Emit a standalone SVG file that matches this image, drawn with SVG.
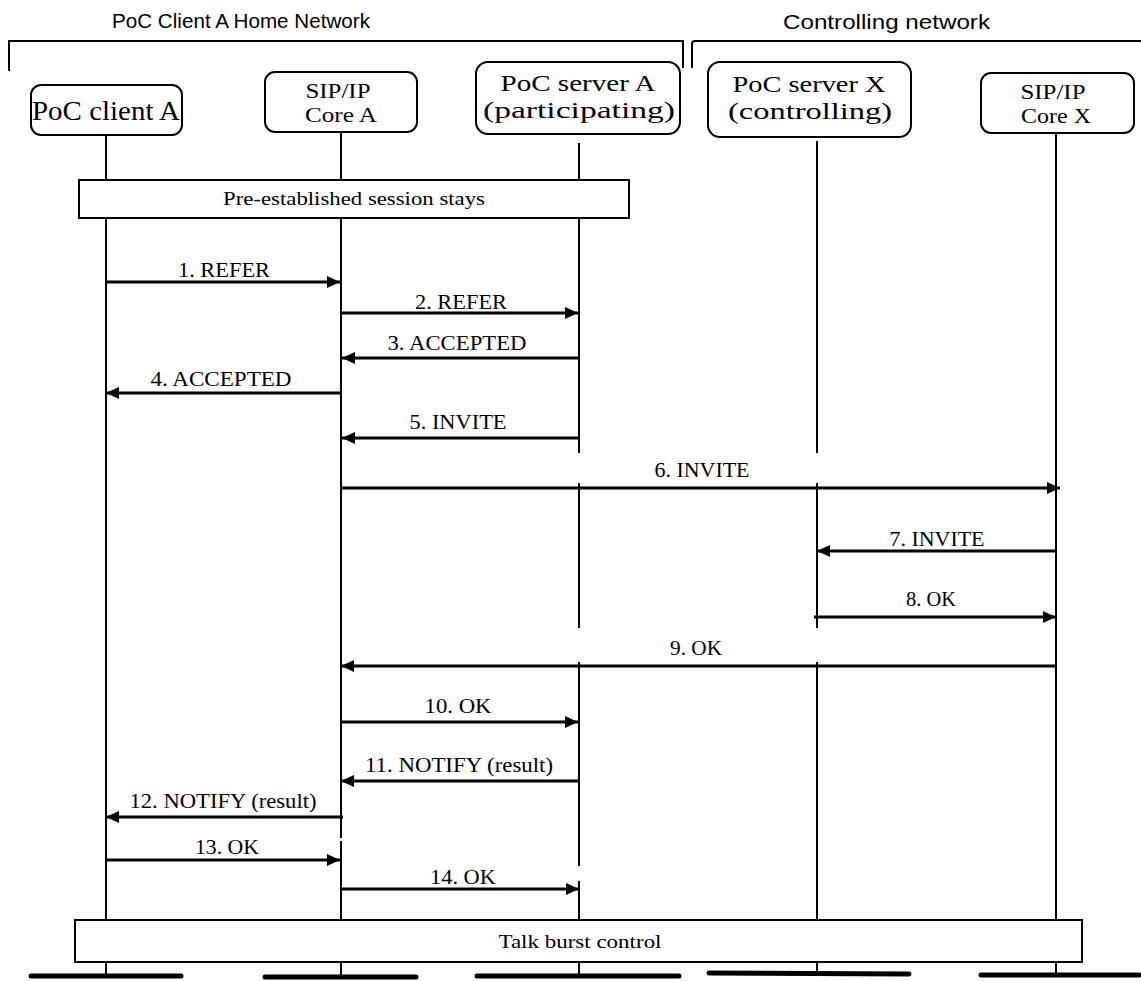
<svg xmlns="http://www.w3.org/2000/svg" width="1141" height="981" viewBox="0 0 1141 981">
<style>
.bg{fill:#fff}
.box{fill:#fff;stroke:#000;stroke-width:2}
.life{stroke:#000;stroke-width:2;fill:none}
.msg{stroke:#000;stroke-width:3;fill:none;marker-end:url(#ah)}
.net{stroke:#000;stroke-width:2;fill:none}
.bar{stroke:#000;stroke-width:5;stroke-linecap:round}
.ttl{font-family:"Liberation Sans",Arial,sans-serif;font-size:20px;fill:#000}
.big{font-family:"Liberation Serif","Times New Roman",serif;font-size:28px;fill:#000;text-anchor:middle}
.mid{font-family:"Liberation Serif","Times New Roman",serif;font-size:24px;fill:#000;text-anchor:middle}
.sm{font-family:"Liberation Serif","Times New Roman",serif;font-size:21px;fill:#000;text-anchor:middle}
.lbl{font-family:"Liberation Serif","Times New Roman",serif;font-size:21px;fill:#000;text-anchor:middle}
.bx{font-family:"Liberation Serif","Times New Roman",serif;font-size:19px;fill:#000;text-anchor:middle}
</style>
<defs>
<marker id="ah" markerUnits="userSpaceOnUse" markerWidth="14" markerHeight="13" refX="13" refY="6" orient="auto">
<path d="M0,0 L13,6 L0,12 Z" fill="#000"/>
</marker>
</defs>
<rect class="bg" x="0" y="0" width="1141" height="981"/>

<g id="networks">
<text class="ttl" x="112" y="28" textLength="258" lengthAdjust="spacingAndGlyphs">PoC Client A Home Network</text>
<text class="ttl" x="783" y="29" textLength="207" lengthAdjust="spacingAndGlyphs">Controlling network</text>
<path class="net" d="M8,41 H684 M9,41 V71 M683,41 V68 M692,68 V44 Q692,41 695,41 H1141"/>
</g>

<g id="lifelines">
<path class="life" d="M106,135 V975"/>
<path class="life" d="M341,132 V838 M341,841 V975"/>
<path class="life" d="M579,143 V453 M579,483 V628 M579,662 V866 M579,881 V975"/>
<path class="life" d="M817,141 V453 M817,483 V628 M817,662 V975"/>
<path class="life" d="M1056,133 V975"/>
</g>

<g id="node-client-a">
<rect class="box" x="31" y="85" width="151" height="50" rx="10"/>
<text class="big" x="106" y="120" textLength="148" lengthAdjust="spacingAndGlyphs">PoC client A</text>
</g>
<g id="node-core-a">
<rect class="box" x="265" y="72" width="152" height="60" rx="10"/>
<text class="sm" x="338" y="98" textLength="65" lengthAdjust="spacingAndGlyphs">SIP/IP</text>
<text class="sm" x="341" y="122" textLength="72" lengthAdjust="spacingAndGlyphs">Core A</text>
</g>
<g id="node-server-a">
<rect class="box" x="476" y="62" width="204" height="72" rx="12"/>
<text class="mid" x="578" y="91" textLength="155" lengthAdjust="spacingAndGlyphs">PoC server A</text>
<text class="mid" x="579" y="118" textLength="192" lengthAdjust="spacingAndGlyphs">(participating)</text>
</g>
<g id="node-server-x">
<rect class="box" x="708" y="62" width="203" height="75" rx="12"/>
<text class="mid" x="809" y="92" textLength="153" lengthAdjust="spacingAndGlyphs">PoC server X</text>
<text class="mid" x="810" y="119" textLength="164" lengthAdjust="spacingAndGlyphs">(controlling)</text>
</g>
<g id="node-core-x">
<rect class="box" x="981" y="73" width="153" height="60" rx="10"/>
<text class="sm" x="1053" y="99" textLength="65" lengthAdjust="spacingAndGlyphs">SIP/IP</text>
<text class="sm" x="1056" y="123" textLength="70" lengthAdjust="spacingAndGlyphs">Core X</text>
</g>

<g id="pre-established">
<rect class="box" x="79" y="180" width="550" height="38"/>
<text class="bx" x="354" y="205" textLength="262" lengthAdjust="spacingAndGlyphs">Pre-established session stays</text>
</g>

<g id="connectors">
<line class="msg" x1="106" y1="282" x2="340" y2="282"/>
<line class="msg" x1="341" y1="313" x2="578" y2="313"/>
<line class="msg" x1="579" y1="358" x2="342" y2="358"/>
<line class="msg" x1="341" y1="393" x2="106" y2="393"/>
<line class="msg" x1="578" y1="438" x2="342" y2="438"/>
<line class="msg" x1="341" y1="488" x2="1060" y2="488"/>
<line class="msg" x1="1056" y1="551" x2="817" y2="551"/>
<line class="msg" x1="814" y1="617" x2="1056" y2="617"/>
<line class="msg" x1="1056" y1="666" x2="341" y2="666"/>
<line class="msg" x1="340" y1="722" x2="578" y2="722"/>
<line class="msg" x1="579" y1="781" x2="341" y2="781"/>
<line class="msg" x1="343" y1="817" x2="106" y2="817"/>
<line class="msg" x1="106" y1="860" x2="340" y2="860"/>
<line class="msg" x1="341" y1="889" x2="579" y2="889"/>
</g>

<g id="labels">
<text class="lbl" x="224" y="277" textLength="92" lengthAdjust="spacingAndGlyphs">1. REFER</text>
<text class="lbl" x="461" y="309" textLength="92" lengthAdjust="spacingAndGlyphs">2. REFER</text>
<text class="lbl" x="457" y="350" textLength="139" lengthAdjust="spacingAndGlyphs">3. ACCEPTED</text>
<text class="lbl" x="221" y="386" textLength="141" lengthAdjust="spacingAndGlyphs">4. ACCEPTED</text>
<text class="lbl" x="458" y="429" textLength="97" lengthAdjust="spacingAndGlyphs">5. INVITE</text>
<text class="lbl" x="702" y="477" textLength="95" lengthAdjust="spacingAndGlyphs">6. INVITE</text>
<text class="lbl" x="937" y="546" textLength="95" lengthAdjust="spacingAndGlyphs">7. INVITE</text>
<text class="lbl" x="931" y="606" textLength="50" lengthAdjust="spacingAndGlyphs">8. OK</text>
<text class="lbl" x="696" y="655" textLength="52" lengthAdjust="spacingAndGlyphs">9. OK</text>
<text class="lbl" x="458" y="713" textLength="67" lengthAdjust="spacingAndGlyphs">10. OK</text>
<text class="lbl" x="459" y="772" textLength="188" lengthAdjust="spacingAndGlyphs">11. NOTIFY (result)</text>
<text class="lbl" x="223" y="808" textLength="187" lengthAdjust="spacingAndGlyphs">12. NOTIFY (result)</text>
<text class="lbl" x="227" y="854" textLength="64" lengthAdjust="spacingAndGlyphs">13. OK</text>
<text class="lbl" x="463" y="884" textLength="66" lengthAdjust="spacingAndGlyphs">14. OK</text>
</g>

<g id="talk-burst">
<rect class="box" x="75" y="920" width="1007" height="42"/>
<text class="bx" x="580" y="948" textLength="163" lengthAdjust="spacingAndGlyphs">Talk burst control</text>
</g>

<g id="bars">
<line class="bar" x1="31" y1="976" x2="181" y2="976"/>
<line class="bar" x1="265" y1="977" x2="416" y2="977"/>
<line class="bar" x1="477" y1="976" x2="679" y2="976"/>
<line class="bar" x1="709" y1="973" x2="909" y2="974"/>
<line class="bar" x1="981" y1="975" x2="1139" y2="975"/>
</g>
</svg>
